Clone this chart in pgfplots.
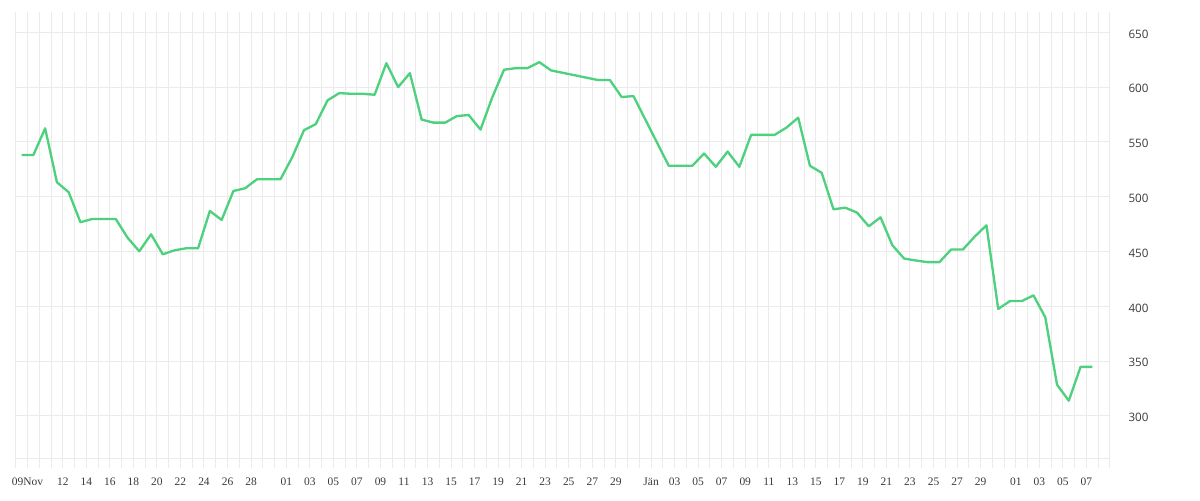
\documentclass[border=0pt]{standalone}
\usepackage{fontspec}
\setmainfont{Liberation Serif}
\newfontfamily\ysans{Open Sans}
\usepackage{pgfplots}
\pgfplotsset{compat=1.18}
\definecolor{linegreen}{HTML}{4ED17E}
\definecolor{gridgray}{HTML}{EBEBEB}
\definecolor{labelgray}{HTML}{3A3A3A}

% days counted from 9 Nov; points sit at noon
\pgfplotstableread{
x y
-0.5 538.1
0.5 538.0
1.5 562.4
2.5 513.2
3.5 504.1
4.5 476.7
5.5 479.7
6.5 479.7
7.5 479.7
8.5 462.7
9.5 450.2
10.5 465.7
11.5 447.5
12.5 451.1
13.5 453.0
14.5 453.0
15.5 487.0
16.5 478.8
17.5 505.2
18.5 507.7
19.5 515.9
20.5 515.9
21.5 515.9
22.5 536.0
23.5 560.7
24.5 566.2
25.5 587.9
26.5 594.5
27.5 593.9
28.5 593.9
29.5 593.0
30.5 621.8
31.5 600.0
32.5 612.7
33.5 570.3
34.5 567.6
35.5 567.6
36.5 573.6
37.5 574.5
38.5 561.2
39.5 590.6
40.5 615.8
41.5 617.3
42.5 617.3
43.5 622.7
44.5 615.2
48.5 606.4
49.5 606.4
50.5 590.9
51.5 591.8
54.5 528.2
55.5 528.2
56.5 528.2
57.5 539.4
58.5 527.3
59.5 541.2
60.5 527.3
61.5 556.4
62.5 556.4
63.5 556.4
64.5 563.0
65.5 572.1
66.5 528.2
67.5 521.8
68.5 488.5
69.5 490.0
70.5 485.5
71.5 473.0
72.5 481.2
73.5 455.8
74.5 443.6
75.5 441.8
76.5 440.3
77.5 440.3
78.5 451.8
79.5 451.8
80.5 463.6
81.5 473.9
82.5 397.6
83.5 404.8
84.5 404.8
85.5 410.0
86.5 390.0
87.5 328.5
88.5 313.9
89.5 344.8
90.5 344.8
}\prices

\begin{document}
\begin{tikzpicture}
\begin{axis}[
    at={(0,0)}, anchor=south west,
    scale only axis,
    width=820.7pt, height=334.7pt,
    xmin=-1, xmax=92,
    ymin=261.4, ymax=668.5,
    axis line style={draw=none},
    xtick={0,3,5,7,9,11,13,15,17,19,22,24,26,28,30,32,34,36,38,40,42,44,46,48,50,53,55,57,59,61,63,65,67,69,71,73,75,77,79,81,84,86,88,90},
    xticklabels={09Nov,12,14,16,18,20,22,24,26,28,01,03,05,07,09,11,13,15,17,19,21,23,25,27,29,J\"an,03,05,07,09,11,13,15,17,19,21,23,25,27,29,01,03,05,07},
    minor xtick={-1,0,...,92},
    ytick={300,350,...,650},
    extra y ticks={261.4},
    extra y tick labels={},
    extra y tick style={grid=major},
    grid=both,
    major grid style={gridgray, line width=0.75pt},
    minor grid style={gridgray, line width=0.75pt},
    tick align=outside,
    xtick pos=bottom,
    major tick length=0pt,
    minor tick length=7.5pt,
    every tick/.style={gridgray, line width=0.75pt},
    yticklabel pos=right,
    /pgf/number format/assume math mode=true,
    xticklabel style={font=\fontsize{8.6}{10}\selectfont, text=labelgray, anchor=north, yshift=-11pt},
    yticklabel style={font=\ysans\fontsize{8.7}{10}\selectfont, text=labelgray, anchor=west, xshift=10.4pt, yshift=-1.2pt},
]
\addplot[linegreen, line width=1.75pt, line join=round] table[x=x, y=y] {\prices};
\end{axis}
\path[use as bounding box] (-11.8pt,-31.3pt) rectangle (888.2pt,343.7pt);
\end{tikzpicture}
\end{document}
